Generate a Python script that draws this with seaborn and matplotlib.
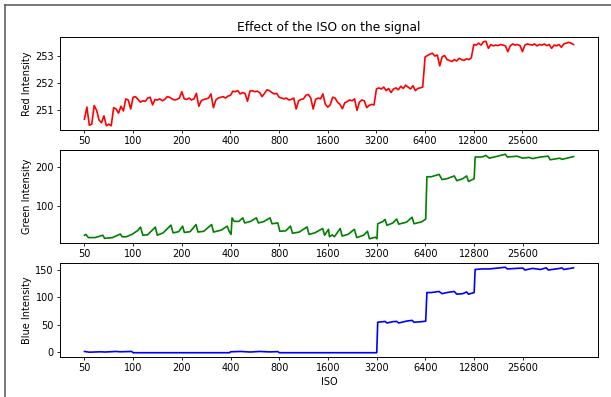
import matplotlib
matplotlib.use("Agg")
import matplotlib.pyplot as plt
from matplotlib.lines import Line2D
import seaborn as sns

# ---- data ----
tick_stops = [0, 1, 2, 3, 4, 5, 6, 7, 8, 9]
tick_labels = ["50", "100", "200", "400", "800", "1600", "3200", "6400", "12800", "25600"]

red_x = [round(0.05 * i, 2) for i in range(202)]
red_y = [
    250.68, 251.12, 250.46, 250.50, 251.18, 251.00, 250.65, 250.55, 250.80, 250.44,
    250.50, 250.44, 251.10, 251.05, 250.90, 251.15, 250.98, 251.42, 251.38, 251.05,
    251.48, 251.50, 251.40, 251.30, 251.35, 251.33, 251.45, 251.48, 251.20, 251.40,
    251.38, 251.42, 251.35, 251.40, 251.50, 251.48, 251.42, 251.38, 251.40, 251.45,
    251.68, 251.42, 251.40, 251.45, 251.38, 251.42, 251.62, 251.15, 251.35, 251.40,
    251.42, 251.45, 251.60, 251.10, 251.38, 251.45, 251.48, 251.50, 251.45, 251.52,
    251.55, 251.70, 251.68, 251.72, 251.60, 251.65, 251.62, 251.33, 251.70, 251.72,
    251.68, 251.70, 251.65, 251.50, 251.62, 251.75, 251.72, 251.65, 251.60, 251.62,
    251.48, 251.45, 251.42, 251.45, 251.38, 251.40, 251.45, 251.05, 251.35, 251.40,
    251.42, 251.55, 251.58, 251.45, 251.05, 251.40, 251.45, 251.42, 251.60, 251.22,
    251.12, 251.20, 251.48, 251.45, 251.30, 251.22, 251.06, 251.28, 251.32, 251.38,
    251.35, 251.42, 251.00, 251.30, 251.38, 251.35, 251.10, 251.18, 251.22, 251.20,
    251.78, 251.82, 251.78, 251.85, 251.72, 251.80, 251.65, 251.78, 251.82, 251.75,
    251.88, 251.80, 251.92, 251.85, 251.78, 251.90, 251.72, 251.80, 251.82, 251.85,
    252.95, 253.00, 253.05, 253.08, 252.98, 253.02, 252.62, 252.95, 253.00, 252.85,
    252.82, 252.78, 252.85, 252.80, 252.90, 252.85, 252.82, 252.88, 252.85, 252.92,
    253.40, 253.38, 253.45, 253.38, 253.50, 253.52, 253.26, 253.40, 253.35, 253.38,
    253.36, 253.40, 253.38, 253.35, 253.14, 253.35, 253.42, 253.38, 253.40, 253.36,
    253.14, 253.38, 253.42, 253.40, 253.38, 253.42, 253.35, 253.40, 253.38, 253.42,
    253.36, 253.40, 253.26, 253.38, 253.35, 253.40, 253.30, 253.42, 253.45, 253.48,
    253.45, 253.40,
]

green_x = [
    0.00, 0.03, 0.08, 0.22, 0.375, 0.415, 0.575, 0.735, 0.775, 0.855,
    0.975, 1.095, 1.15, 1.20, 1.295, 1.455, 1.495, 1.615, 1.775, 1.82,
    1.935, 2.015, 2.05, 2.17, 2.29, 2.33, 2.45, 2.61, 2.65, 2.81,
    2.93, 2.97, 3.01, 3.03, 3.075, 3.17, 3.25, 3.29, 3.41, 3.53,
    3.57, 3.69, 3.81, 3.85, 3.97, 4.01, 4.13, 4.23, 4.27, 4.41,
    4.57, 4.61, 4.73, 4.89, 4.93, 5.01, 5.03, 5.09, 5.13, 5.25,
    5.29, 5.41, 5.54, 5.59, 5.73, 5.81, 5.85, 5.97, 6.005, 6.02,
    6.13, 6.17, 6.21, 6.33, 6.41, 6.45, 6.61, 6.725, 6.765, 6.925,
    7.005, 7.03, 7.12, 7.28, 7.34, 7.44, 7.59, 7.645, 7.765, 7.845,
    7.885, 8.00, 8.02, 8.16, 8.24, 8.31, 8.48, 8.64, 8.68, 8.88,
    9.00, 9.12, 9.20, 9.36, 9.52, 9.56, 9.76, 9.80, 10.04,
]
green_y = [
    27, 29, 21, 21, 27, 19, 21, 30, 23, 23,
    29, 39, 47.5, 27, 28, 47.5, 27, 33, 52.5, 33,
    36, 50, 34, 36, 54, 35, 37, 54, 35, 40,
    50, 37, 29, 71, 62, 62, 71, 58, 62, 71,
    58, 62, 71, 56, 58, 37, 38, 50, 32, 35,
    48, 29, 33, 44, 27, 42, 23, 28, 23, 44,
    25, 29, 42, 21, 27, 37, 18, 22, 18, 56,
    62, 67, 52, 58, 68, 55, 60, 72.5, 56, 61,
    68, 175, 175, 181, 168, 170, 177, 165, 170, 177,
    163, 170, 225, 225, 229, 222, 227, 232, 225, 227,
    222, 224, 221, 225, 227, 218, 222, 219, 226,
]

blue_x = [
    0.00, 0.10, 0.33, 0.42, 0.65, 0.73, 0.97, 1.00, 2.98, 3.00,
    3.20, 3.40, 3.60, 3.80, 3.97, 4.00, 6.00, 6.02, 6.13, 6.17,
    6.21, 6.33, 6.41, 6.45, 6.61, 6.725, 6.765, 6.925, 7.005, 7.03,
    7.12, 7.28, 7.34, 7.44, 7.59, 7.645, 7.765, 7.845, 7.885, 8.00,
    8.02, 8.16, 8.31, 8.64, 8.68, 9.00, 9.04, 9.20, 9.36, 9.48,
    9.52, 9.76, 9.80, 9.84, 10.04,
]
blue_y = [
    1.8, 0.5, 1.2, 0.8, 1.8, 1.2, 1.8, -0.5, -0.5, 1.2,
    1.8, 0.8, 1.8, 1.0, 1.5, -0.5, -0.5, 55, 56, 56.5,
    53.6, 56, 56.5, 53.6, 57, 58.4, 55, 56, 57, 109,
    109, 111, 107, 109, 111, 106, 107, 110, 106, 109,
    151, 152, 152, 155, 152, 153.6, 150, 153, 151, 154,
    150, 153, 154, 151, 154,
]

# ---- figure ----
plt.rcParams["font.family"] = ["DejaVu Sans"]
fs = 7.0
plt.rcParams.update({
    "xtick.labelsize": fs, "ytick.labelsize": fs, "axes.labelsize": fs,
    "axes.linewidth": 0.7, "xtick.major.width": 0.6, "ytick.major.width": 0.6,
    "xtick.major.size": 2.2, "ytick.major.size": 2.2,
    "xtick.major.pad": 2.2, "ytick.major.pad": 2.2,
})

W, H = 611, 397
fig = plt.figure(figsize=(W / 100, H / 100), dpi=100)
left, right = 60 / W, 598 / W
boxes = [(37, 130), (150, 243), (263, 357)]
axes = []
for top, bot in boxes:
    axes.append(fig.add_axes([left, 1 - bot / H, right - left, (bot - top) / H]))

series = [
    (red_x, red_y, "red", "Red Intensity", [251, 252, 253]),
    (green_x, green_y, "green", "Green Intensity", [100, 200]),
    (blue_x, blue_y, "blue", "Blue Intensity", [0, 50, 100, 150]),
]
for ax, (xs, ys, col, lab, yt) in zip(axes, series):
    sns.lineplot(x=xs, y=ys, ax=ax, color=col, linewidth=1.2, estimator=None, sort=False)
    ax.set_xticks(tick_stops)
    ax.set_xticklabels(tick_labels)
    ax.set_yticks(yt)
    ax.set_ylabel(lab, labelpad=2.5)
    ax.set_xlabel("")

axes[0].set_title("Effect of the ISO on the signal", fontsize=8.8, pad=4.5)
axes[2].set_xlabel("ISO", labelpad=2.5)

# figure border (left and top edges)
fig.add_artist(Line2D([4.5 / W, 4.5 / W], [0, 1 - 5 / H], transform=fig.transFigure,
                      color="#555555", linewidth=1.1))
fig.add_artist(Line2D([4.5 / W, 1], [1 - 5 / H, 1 - 5 / H], transform=fig.transFigure,
                      color="#555555", linewidth=1.1))

fig.savefig("out.png", dpi=100)
